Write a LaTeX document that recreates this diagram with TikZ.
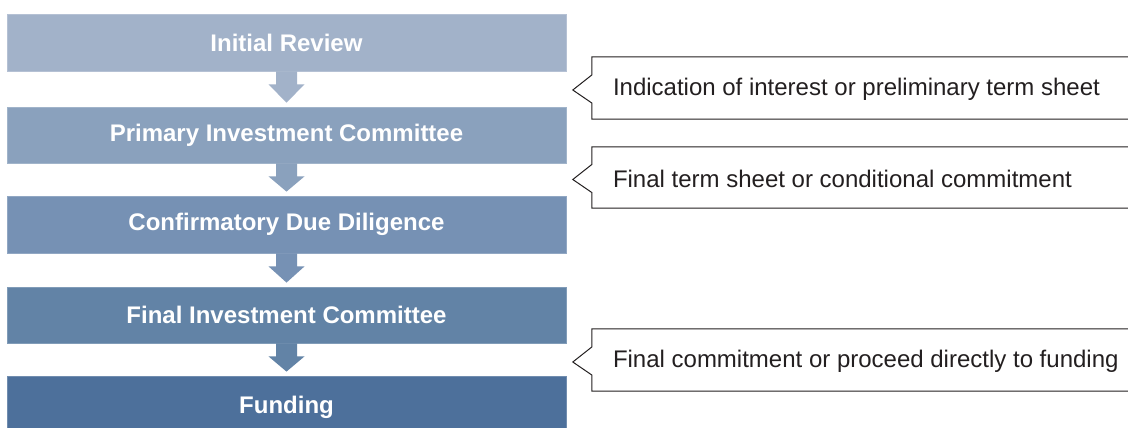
\documentclass[tikz,border=0pt]{standalone}
\usepackage{fontspec}
\setmainfont{Liberation Sans}
\usetikzlibrary{calc}
\definecolor{sA}{HTML}{A2B2C9}
\definecolor{sB}{HTML}{8AA1BD}
\definecolor{sC}{HTML}{7691B4}
\definecolor{sD}{HTML}{6283A6}
\definecolor{sE}{HTML}{4D709B}
\definecolor{ink}{HTML}{231F20}
\tikzset{
  stage/.style={rectangle, minimum width=559pt, inner sep=0pt, text=white,
    font=\bfseries\fontsize{24}{28}\selectfont, fill=#1, draw=#1!80!white, line width=0.8pt},
  callbox/.style={rectangle, minimum width=540pt, inner sep=0pt},
  calltext/.style={anchor=west, inner sep=0pt, text=ink, font=\fontsize{24}{28}\selectfont},
  callline/.style={draw=ink, line width=1pt},
}
\newcommand\flowarrow[3]{%
  \fill[#3] ([xshift=-10.5pt]#1.south) -- ([xshift=-10.5pt,yshift=-13pt]#1.south)
    -- ([xshift=-18pt,yshift=-13pt]#1.south) -- ([yshift=4pt]#2.north)
    -- ([xshift=18pt,yshift=-13pt]#1.south) -- ([xshift=10.5pt,yshift=-13pt]#1.south)
    -- ([xshift=10.5pt]#1.south) -- cycle;}
\newcommand\callframe[1]{%
  \path[callline] (#1.north east) -- (#1.north west) -- ([yshift=13pt]#1.west)
    -- ([xshift=-19pt,yshift=-2pt]#1.west) -- ([yshift=-15pt]#1.west)
    -- (#1.south west) -- (#1.south east);}
\begin{document}
\begin{tikzpicture}[x=1pt,y=-1pt]
\useasboundingbox (0,0) rectangle (1128,428);
\fill[white] (0,0) rectangle (1128,428);
\node[stage=sA, minimum height=57pt] (b1) at (286.5,42.5) {Initial Review};
\node[stage=sB, minimum height=56pt] (b2) at (286.5,135) {Primary Investment Committee};
\node[stage=sC, minimum height=57pt] (b3) at (286.5,224.5) {Confirmatory Due Diligence};
\node[stage=sD, minimum height=56pt] (b4) at (286.5,315) {Final Investment Committee};
\node[stage=sE, minimum height=62pt] (b5) at (286.5,407) {Funding};
\flowarrow{b1}{b2}{sA}
\flowarrow{b2}{b3}{sB}
\flowarrow{b3}{b4}{sC}
\flowarrow{b4}{b5}{sD}
\node[callbox, minimum height=62pt] (k1) at (862,88) {};
\node[callbox, minimum height=61pt] (k2) at (862,177.5) {};
\node[callbox, minimum height=62pt] (k3) at (862,360) {};
\callframe{k1}
\callframe{k2}
\callframe{k3}
\node[calltext] (t1) at ([xshift=21pt,yshift=-1.5pt]k1.west) {Indication of interest or preliminary term sheet};
\node[calltext] (t2) at ([xshift=21pt,yshift=-1.5pt]k2.west) {Final term sheet or conditional commitment};
\node[calltext] (t3) at ([xshift=21pt,yshift=-1.5pt]k3.west) {Final commitment or proceed directly to funding};
\end{tikzpicture}
\end{document}
